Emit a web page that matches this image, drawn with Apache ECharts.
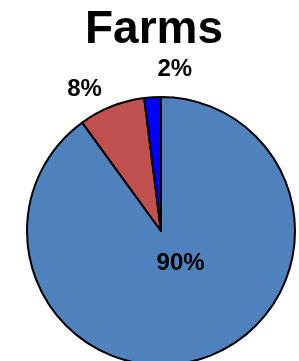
<!DOCTYPE html>
<html>
<head>
<meta charset="utf-8">
<script src="https://cdn.jsdelivr.net/npm/echarts@6/dist/echarts.min.js"></script>
<style>
html, body { margin: 0; padding: 0; background: #fff; }
#main { width: 299px; height: 361px; }
</style>
</head>
<body>
<div id="main"></div>
<script>
var titleText = 'Farms';
var names = ['A', 'B', 'C'];
var values = [90, 8, 2];
var colors = ['#4F81BD', '#C0504D', '#0000FF'];

var myChart = echarts.init(document.getElementById('main'));
var pieData = [];
for (var i = 0; i < values.length; i++) {
	pieData.push({
		name: names[i],
		value: values[i],
		itemStyle: { color: colors[i] },
		label: i === 0 ? { position: 'inside' } : { position: 'outside' }
	});
}
// label nudges, per slice
var nudges = [[-2, -34], [23, -28], [45, -22]];
var option = {
	animation: false,
	title: {
		text: titleText,
		left: 80,
		top: 2,
		textStyle: {
			fontFamily: 'Liberation Sans',
			fontSize: 46,
			fontWeight: 'bold',
			color: '#000'
		}
	},
	series: [{
		type: 'pie',
		center: [161, 231],
		radius: 134,
		startAngle: 90,
		clockwise: true,
		data: pieData,
		itemStyle: {
			borderColor: '#000',
			borderWidth: 2
		},
		label: {
			formatter: '{d}%',
			fontFamily: 'Liberation Sans',
			fontSize: 24,
			fontWeight: 'bold',
			color: '#000'
		},
		labelLine: { show: false, length: 6, length2: 0 },
		labelLayout: function (params) {
			var n = nudges[params.dataIndex];
			return { dx: n[0], dy: n[1] };
		},
		emphasis: { disabled: true }
	}]
};
myChart.setOption(option);
</script>
</body>
</html>
